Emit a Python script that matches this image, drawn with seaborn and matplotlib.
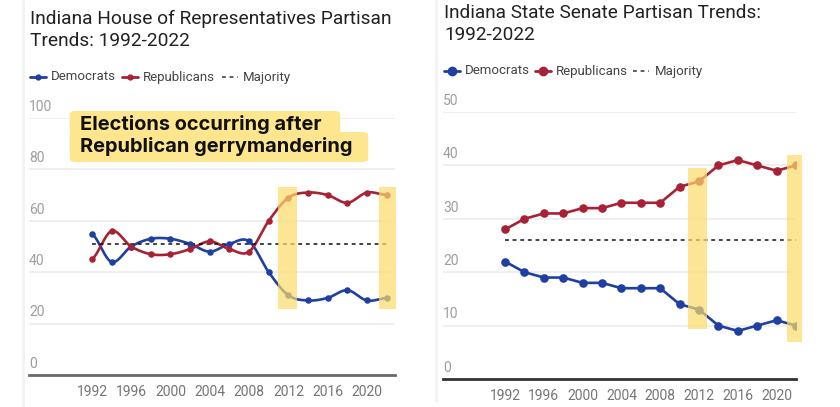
import numpy as np
import pandas as pd
import matplotlib
matplotlib.use("Agg")
import matplotlib.pyplot as plt
from matplotlib.patches import Rectangle, FancyBboxPatch
from matplotlib.lines import Line2D
import seaborn as sns

# ---------------- data ----------------
years = list(range(1992, 2023, 2))
house_dem = [55, 44, 50, 53, 53, 51, 48, 51, 52, 40, 31, 29, 30, 33, 29, 30]
house_rep = [45, 56, 50, 47, 47, 49, 52, 49, 48, 60, 69, 71, 70, 67, 71, 70]
house_majority = 51
senate_dem = [22, 20, 19, 19, 18, 18, 17, 17, 17, 14, 13, 10, 9, 10, 11, 10]
senate_rep = [28, 30, 31, 31, 32, 32, 33, 33, 33, 36, 37, 40, 41, 40, 39, 40]
senate_majority = 26
xtick_years = [1992, 1996, 2000, 2004, 2008, 2012, 2016, 2020]
house_yticks = [0, 20, 40, 60, 80, 100]
senate_yticks = [0, 10, 20, 30, 40, 50]
highlight_years = [2012, 2022]
house_title = "Indiana House of Representatives Partisan\nTrends: 1992-2022"
senate_title = "Indiana State Senate Partisan Trends:\n1992-2022"
legend_labels = ["Democrats", "Republicans", "Majority"]
annotation = ["Elections occurring after", "Republican gerrymandering"]

BLUE = "#1f3fa3"
RED = "#a82235"
HL = "#fcdc6a"
BOX = "#fde68d"
GRID = "#ebebeb"
LBL = "#9e9e9e"
XLBL = "#757575"

sns.set_theme(style="white")
plt.rcParams["font.family"] = ["Roboto", "DejaVu Sans"]

W, H = 840, 407
fig = plt.figure(figsize=(W / 100, H / 100), dpi=100)
fig.patch.set_facecolor("white")


def fax(l, t, r, b):
    return fig.add_axes([l / W, 1 - b / H, (r - l) / W, (b - t) / H])


def smooth(xv, yv, n=20):
    x = np.asarray(xv, float)
    y = np.asarray(yv, float)
    px = np.concatenate([[2 * x[0] - x[1]], x, [2 * x[-1] - x[-2]]])
    py = np.concatenate([[y[0]], y, [y[-1]]])
    xs, ys = [], []
    for i in range(1, len(px) - 2):
        t = np.linspace(0, 1, n, endpoint=False)
        for arr, out in ((px, xs), (py, ys)):
            p0, p1, p2, p3 = arr[i - 1], arr[i], arr[i + 1], arr[i + 2]
            c1 = p1 + (p2 - p0) / 6
            c2 = p2 - (p3 - p1) / 6
            out.extend((1 - t) ** 3 * p1 + 3 * (1 - t) ** 2 * t * c1
                       + 3 * (1 - t) * t ** 2 * c2 + t ** 3 * p2)
    xs.append(x[-1]); ys.append(y[-1])
    return np.array(xs), np.array(ys)


def style_axes(ax, yticks, ymax, xlim, base_color):
    ax.set_xlim(*xlim)
    ax.set_ylim(0, ymax)
    ax.set_facecolor("none")
    for s in ["left", "right", "top"]:
        ax.spines[s].set_visible(False)
    ax.spines["bottom"].set_color(base_color)
    ax.spines["bottom"].set_linewidth(2)
    ax.spines["bottom"].set_zorder(6)
    ax.set_yticks(yticks)
    ax.set_yticklabels([])
    ax.grid(axis="y", color=GRID, linewidth=1.1)
    ax.grid(axis="x", visible=False)
    ax.tick_params(axis="y", length=0)
    ax.set_xticks(xtick_years)
    ax.set_xticklabels([str(y) for y in xtick_years], color=XLBL, fontsize=10)
    ax.tick_params(axis="x", length=0, pad=7)
    ax.set_xlabel("")
    ax.set_ylabel("")
    for v in yticks:
        ax.annotate(str(v), xy=(0, v), xycoords=("axes fraction", "data"),
                    xytext=(0, 3), textcoords="offset points",
                    ha="left", va="bottom", color=LBL, fontsize=10)


# ---------------- House ----------------
axL = fax(29, 118, 395, 375)
for vals, col in ((house_dem, BLUE), (house_rep, RED)):
    sx, sy = smooth(years, vals)
    sns.lineplot(x=sx, y=sy, ax=axL, color=col, linewidth=1.9, sort=False,
                 estimator=None, zorder=3)
    sns.scatterplot(x=years, y=vals, ax=axL, color=col, s=22, edgecolor=col,
                    linewidth=0, zorder=3.5)
sns.lineplot(x=[years[0], years[-1]], y=[house_majority] * 2, ax=axL,
             color="#111111", linewidth=1.1, dashes=(2.5, 2.5), zorder=3)
style_axes(axL, house_yticks, 100, (1985.6, 2022.85), "#6b6b6b")
for yr, x0, x1 in ((2012, 2010.94, 2012.9), (2022, 2021.2, 2023.0)):
    axL.add_patch(Rectangle((x0, 25.7), x1 - x0, 73.3 - 25.7, color=HL,
                            alpha=0.7, lw=0, zorder=5, clip_on=False))

# ---------------- Senate ----------------
axR = fax(443, 112, 796, 379)
for vals, col in ((senate_dem, BLUE), (senate_rep, RED)):
    sns.lineplot(x=years, y=vals, ax=axR, color=col, linewidth=1.9,
                 marker="o", markersize=6.2, markeredgewidth=0, zorder=3)
sns.lineplot(x=[years[0], years[-1]], y=[senate_majority] * 2, ax=axR,
             color="#111111", linewidth=1.1, dashes=(2.5, 2.5), zorder=3)
style_axes(axR, senate_yticks, 50, (1985.6, 2022.0), "#333333")
for yr, x0, x1, y0, y1 in ((2012, 2010.9, 2012.86, 9.4, 39.5),
                           (2022, 2021.1, 2022.65, 6.9, 41.9)):
    axR.add_patch(Rectangle((x0, y0), x1 - x0, y1 - y0, color=HL,
                            alpha=0.7, lw=0, zorder=5, clip_on=False))

# ---------------- panel edge shading ----------------
fig.patches.append(Rectangle((22 / W, 0), 3 / W, 1, transform=fig.transFigure,
                             color="#f3f3f3", lw=0, zorder=0))
fig.patches.append(Rectangle((435 / W, 1 - 402 / H), 3 / W, 402 / H,
                             transform=fig.transFigure, color="#f3f3f3", lw=0, zorder=0))

# ---------------- titles ----------------
fig.text(30 / W, 1 - 10 / H, house_title, ha="left", va="top", fontsize=13.8,
         color="#222222", linespacing=1.25)
fig.text(444 / W, 1 - 4 / H, senate_title, ha="left", va="top", fontsize=13.7,
         color="#222222", linespacing=1.25)


# ---------------- legends ----------------
def legend(x0, y, xs, ms):
    yy = 1 - y / H
    for (lx, tx), lab, col in zip(xs, legend_labels, [BLUE, RED, "#333333"]):
        if lab == "Majority":
            fig.lines.append(Line2D([lx / W, (lx + 16) / W], [yy, yy],
                                    transform=fig.transFigure, color="#333333",
                                    lw=1.1, dashes=(2.5, 2.5)))
        else:
            fig.lines.append(Line2D([lx / W, (lx + 16) / W], [yy, yy],
                                    transform=fig.transFigure, color=col, lw=2))
            fig.lines.append(Line2D([(lx + 8) / W], [yy], transform=fig.transFigure,
                                    color=col, marker="o", markersize=ms, lw=0))
        fig.text(tx / W, yy, lab, ha="left", va="center", fontsize=9.5,
                 color="#444444")


legend(30, 77, [(30, 51), (122, 143), (222, 243)], 3.5)
legend(444, 71, [(444, 465), (535, 556), (633, 655)], 6)

# ---------------- annotation box ----------------
fig.patches.append(FancyBboxPatch((74 / W, 1 - 134 / H), 262 / W, 21 / H,
                                  boxstyle="round,pad=0.005,rounding_size=0.008",
                                  transform=fig.transFigure, color=BOX, lw=0, zorder=7))
fig.patches.append(FancyBboxPatch((74 / W, 1 - 160 / H), 290 / W, 26 / H,
                                  boxstyle="round,pad=0.005,rounding_size=0.008",
                                  transform=fig.transFigure, color=BOX, lw=0, zorder=7))
fig.text(80 / W, 1 - 125 / H, annotation[0], ha="left", va="center",
         fontsize=14.4, fontweight="bold", family=["Inter", "DejaVu Sans"],
         color="#111111", zorder=8)
fig.text(80 / W, 1 - 147 / H, annotation[1], ha="left", va="center",
         fontsize=14.4, fontweight="bold", family=["Inter", "DejaVu Sans"],
         color="#111111", zorder=8)

fig.savefig("out.png", dpi=100, facecolor="white")
